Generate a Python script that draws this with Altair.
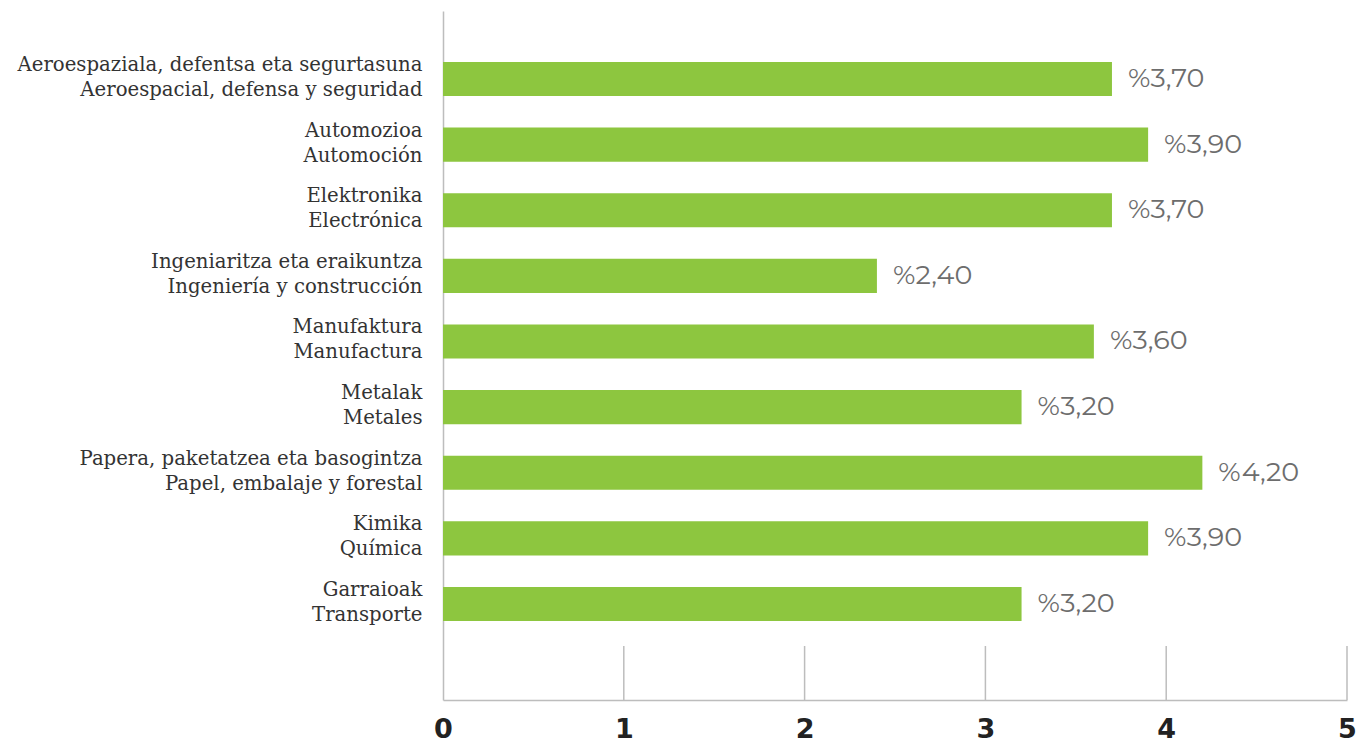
import altair as alt
import pandas as pd

categories_eu = [
    "Aeroespaziala, defentsa eta segurtasuna",
    "Automozioa",
    "Elektronika",
    "Ingeniaritza eta eraikuntza",
    "Manufaktura",
    "Metalak",
    "Papera, paketatzea eta basogintza",
    "Kimika",
    "Garraioak",
]
categories_es = [
    "Aeroespacial, defensa y seguridad",
    "Automoción",
    "Electrónica",
    "Ingeniería y construcción",
    "Manufactura",
    "Metales",
    "Papel, embalaje y forestal",
    "Química",
    "Transporte",
]
values = [3.7, 3.9, 3.7, 2.4, 3.6, 3.2, 4.2, 3.9, 3.2]
tick_values = [0, 1, 2, 3, 4, 5]

cats = [a + "|" + b for a, b in zip(categories_eu, categories_es)]
df = pd.DataFrame({
    "cat": cats,
    "value": values,
    "label": ["%" + f"{v:.2f}".replace(".", ",") for v in values],
})
ticks_df = pd.DataFrame({"t": tick_values[1:]})

W, H = 904, 689

y_enc = alt.Y(
    "cat:N", sort=cats, title=None,
    scale=alt.Scale(paddingInner=0.48, paddingOuter=0.99, align=0.392),
    axis=alt.Axis(
        labelExpr="split(datum.label, '|')",
        labelFont="DejaVu Serif", labelFontSize=19.7, labelColor="#333333",
        labelLineHeight=25, labelPadding=21, labelOffset=-14, ticks=False,
        domainColor="#bdbdbd", domainWidth=1.5, labelLimit=600,
    ),
)
x_scale = alt.Scale(domain=[0, 5], nice=False, zero=True)

bars = alt.Chart(df).mark_bar(color="#8DC63F").encode(
    x=alt.X("value:Q", scale=x_scale, title=None,
            axis=alt.Axis(values=tick_values, format="d", grid=False, ticks=False,
                          labelFont="DejaVu Sans", labelFontWeight="bold",
                          labelFontSize=27, labelColor="#222222", labelPadding=16,
                          domainColor="#bdbdbd", domainWidth=1.5,
                          labelFlush=False)),
    y=y_enc,
)

text = alt.Chart(df).mark_text(
    align="left", baseline="middle", dx=16, font="Montserrat, Open Sans",
    fontSize=27, color="#6d6d6d"
).encode(
    x=alt.X("value:Q", scale=x_scale),
    y=alt.Y("cat:N", sort=cats),
    text="label:N",
)

tick_rules = alt.Chart(ticks_df).mark_rule(color="#bdbdbd", strokeWidth=1.5).encode(
    x=alt.X("t:Q", scale=x_scale),
    y=alt.value(H - 54),
    y2=alt.value(H),
)

chart = alt.layer(bars, text, tick_rules).properties(
    width=W, height=H,
    background="white",
    autosize=alt.AutoSizeParams(type="none"),
    padding={"left": 443, "top": 11, "right": 12, "bottom": 44},
).configure_view(strokeWidth=0, stroke=None)

chart.save("out.html", embed_options={"renderer": "svg", "actions": False})
